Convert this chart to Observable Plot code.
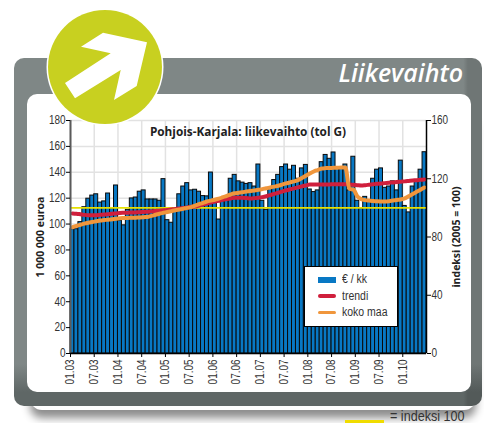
<!DOCTYPE html>
<html lang="fi">
<head>
<meta charset="utf-8">
<script src="https://cdn.jsdelivr.net/npm/d3@7"></script>
<script src="https://cdn.jsdelivr.net/npm/@observablehq/plot@0.6"></script>
<style>
html,body{margin:0;padding:0;background:#fff;width:484px;height:423px;overflow:hidden}
body{position:relative;font-family:"Liberation Sans",sans-serif;color:#222}
.abs{position:absolute}
#shadow{left:30px;top:110px;width:446px;height:300px;border-radius:12px;box-shadow:0 8px 8px rgba(0,0,0,.45)}
#panel{left:14px;top:58px;width:468px;height:348px;border-radius:10px;background:linear-gradient(90deg,rgba(0,0,0,0) 0,rgba(0,0,0,0) 96%,rgba(0,0,0,.13) 97%,rgba(0,0,0,.13) 100%),linear-gradient(180deg,#7f8786 0,#7f8786 88%,#5f6766 96%,#5f6766 100%)}
#inner{left:27px;top:94px;width:444px;height:298px;border-radius:10px;background:#fff}
#head{right:21px;top:56px;font:italic 600 25px "Open Sans",sans-serif;color:#fff;line-height:32px}
#badge{left:46px;top:8px;width:118px;height:118px}
#chart{left:0;top:0}
#legend{left:304px;top:266px;width:92px;height:59px;border:1.5px solid #000;background:#fff}
.row{position:absolute;left:0;height:15px;width:92px;font-size:12.5px;line-height:15px;color:#333}
.sw{position:absolute;left:13px;width:18px}
.lb{position:absolute;left:37px;top:0;white-space:nowrap;transform:scaleX(.84);transform-origin:0 0}
#note{left:345px;top:409px;height:14px;width:130px;font-size:14px;line-height:15px;color:#333}
#note i{position:absolute;left:0;top:11px;width:39px;height:2.5px;background:#f0dc00}
#note span{position:absolute;left:45px;top:0;white-space:nowrap;transform:scaleX(.9);transform-origin:0 0}
</style>
</head>
<body>
<div class="abs" id="shadow"></div>
<div class="abs" id="panel"></div>
<div class="abs" id="inner"></div>
<div class="abs" id="head">Liikevaihto</div>
<div class="abs" id="chart"></div>
<svg class="abs" id="badge" viewBox="46 8 118 118">
  <circle cx="105" cy="67" r="58.5" fill="#fff"/>
  <circle cx="105" cy="67" r="57" fill="#c8d020"/>
  <polygon fill="#fff" points="65,83 110.7,53.3 81,46.7 103,32.7 147,42.3 136.7,86 114,100 120.7,70 75,98.3"/>
</svg>
<div class="abs" id="legend"></div>
<div class="abs" id="note"><i></i><span>= indeksi 100</span></div>
<script>
const revenue = [
  96,96,101.5,113,119.6,122,123,116.6,117.5,123.6,
  112,129.8,102.6,99,111,119.8,120.5,125,126,119,
  119,119,118,134.7,103,101,110.6,123,129,131.6,
  126,126.5,125,121.6,121.4,139.8,118,103.5,117.5,120,
  135,138,133,132,131,131.6,129,146,118,111,
  127,134,138,144,146,142,145,135,143,145.7,
  126.7,124.7,126,147.8,153.4,150.4,155.3,144,144,146,
  126,152,118,112,121,118,135,142,143,128,
  129,133,126,149,114,109,129,134,142,155.5
];
const trend = [
  96.2,96,95.6,95.2,95,95,95,95.2,95.4,95.6,
  96,96.2,96.5,96.6,96.7,96.8,96.9,97,97.2,97.4,
  97.6,97.8,98,98.3,98.6,98.9,99.2,99.6,99.9,100.3,
  100.7,101,101.6,102.3,103,103.7,104.3,104.9,105.5,106,
  106.5,107,107,106.9,106.7,106.5,106.7,107,107.4,108,
  108.8,109.6,110.4,111.2,112,112.7,113.4,114.1,114.8,115.4,
  116,116,116,116,116.1,116.1,116.2,116.2,116.3,116.2,
  116,115.8,115.6,115.4,115.6,115.9,116.2,116.5,116.7,117,
  117.3,117.5,117.8,118,118.2,118.5,118.8,119,119.3,119.5
];
const country = [
  86.7,87.6,88.4,89.2,89.8,90.3,90.8,91.3,91.6,91.9,
  92.2,92.6,92.9,93,93.1,93.2,93.3,93.4,93.6,93.8,
  94.5,95.3,96,96.6,97.2,97.8,98.4,98.9,99.4,100,
  100.5,101.5,102.5,103.5,104.4,105,105.6,106.3,107.3,108.3,
  109.2,110,110.4,110.8,111.2,111.6,112,112.4,112.9,113.5,
  114,114.6,115.2,116,116.8,117.5,118.2,119,120.5,122,
  123.6,125,126,127,127.3,127.4,127.5,127.6,127.7,127.7,
  113,112.6,108,106,105.3,105,104.7,104.5,104.4,104.4,
  104.6,105,105.4,105.8,106.5,108,109.5,111,112.5,114
];
const xLabels = ["01.03","07.03","01.04","07.04","01.05","07.05","01.06","07.06","01.07","07.07","01.08","07.08","01.09","07.09","01.10"];
const leftTicks = [0,20,40,60,80,100,120,140,160,180];
const rightTicks = [0,40,80,120,160];
const baseIndex = 100;
const legendItems = [["€ / kk","#0878c4",6],["trendi","#d01f3c",3.5],["koko maa","#f0963c",3.5]];

const months = d3.range(revenue.length);
const xTicks = xLabels.map((_, i) => i * 6);
const toLeft = v => v * 180 / 160;
const tickFont = {fontSize: 12, fill: "#333"};
const boldFont = {fontFamily: '"Open Sans",sans-serif', fontWeight: 700, fill: "#222"};

const plot = Plot.plot({
  width: 484, height: 423,
  marginLeft: 70, marginRight: 58, marginTop: 120, marginBottom: 70,
  style: {background: "transparent", fontFamily: '"Liberation Sans",sans-serif', overflow: "visible"},
  x: {type: "linear", domain: [0, 90]},
  y: {domain: [0, 180]},
  marks: [
    Plot.gridY(leftTicks, {stroke: "#e2e2e2", strokeOpacity: 1, strokeWidth: 1.5}),
    Plot.gridX(xTicks, {stroke: "#e2e2e2", strokeOpacity: 1, strokeWidth: 1.5}),
    Plot.rectY(months, {x1: i => i, x2: i => i + 1, y1: 0, y2: i => revenue[i], fill: "#0878c4", stroke: "#0a0a0a", strokeWidth: 1}),
    Plot.ruleY([toLeft(baseIndex)], {stroke: "#e6e000", strokeWidth: 1.6}),
    Plot.line(months, {x: i => i + 0.5, y: i => toLeft(trend[i]), stroke: "#d01f3c", strokeWidth: 4, curve: "monotone-x"}),
    Plot.line(months, {x: i => i + 0.5, y: i => toLeft(country[i]), stroke: "#f0963c", strokeWidth: 4, curve: "monotone-x"}),
    Plot.ruleX([0], {stroke: "#5a5a5a", strokeWidth: 2}),
    Plot.ruleX([90], {stroke: "#000", strokeWidth: 1.5}),
    Plot.ruleY([0], {stroke: "#000", strokeWidth: 1.5}),
    Plot.axisY(leftTicks, {anchor: "left", label: null, tickSize: 4, tickPadding: 1, stroke: "#000", ...tickFont}),
    Plot.axisY(rightTicks.map(toLeft), {anchor: "right", label: null, tickSize: 4, tickPadding: 1, stroke: "#000", tickFormat: v => String(Math.round(v * 160 / 180)), ...tickFont}),
    Plot.axisX(xTicks, {anchor: "bottom", label: null, tickSize: 4, tickPadding: 2, tickRotate: -90, stroke: "#000", tickFormat: v => xLabels[v / 6], ...tickFont}),
    Plot.text(["Pohjois-Karjala: liikevaihto (tol G)"], {frameAnchor: "top", dx: -0.5, dy: 7, text: d => d, fontSize: 11.8, ...boldFont}),
    Plot.text(["1 000 000 euroa"], {frameAnchor: "left", textAnchor: "middle", dx: -29.5, text: d => d, rotate: -90, fontSize: 10.5, ...boldFont}),
    Plot.text(["indeksi (2005 = 100)"], {frameAnchor: "right", textAnchor: "middle", dx: 30.5, text: d => d, rotate: -90, fontSize: 10.5, ...boldFont})
  ]
});
document.getElementById("chart").append(plot);

// The reference's tick labels are set in a condensed face: narrow the real text to the same width.
plot.querySelectorAll('g[aria-label$="tick label"] text').forEach(t => {
  t.setAttribute("textLength", (t.getComputedTextLength() * 0.83).toFixed(1));
  t.setAttribute("lengthAdjust", "spacingAndGlyphs");
});

const legend = document.getElementById("legend");
legendItems.forEach(([name, color, h], i) => {
  const row = document.createElement("div");
  row.className = "row";
  row.style.top = (5 + i * 16.5) + "px";
  const sw = document.createElement("div");
  sw.className = "sw";
  sw.style.cssText = `background:${color};height:${h}px;top:${7.5 - h / 2}px;border-radius:${i ? 2 : 0}px`;
  const lb = document.createElement("div");
  lb.className = "lb";
  lb.textContent = name;
  row.append(sw, lb);
  legend.append(row);
});
</script>
</body>
</html>
